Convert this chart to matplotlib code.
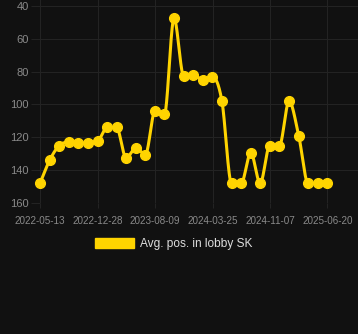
import numpy as np
import pandas as pd
import matplotlib
matplotlib.use('Agg')
import matplotlib.pyplot as plt
import matplotlib.dates as mdates
from matplotlib.patches import Patch

# data
dates = ['2022-05-13', '2022-06-20', '2022-07-28', '2022-09-03', '2022-10-11',
         '2022-11-18', '2022-12-26', '2023-02-02', '2023-03-11', '2023-04-18',
         '2023-05-26', '2023-07-03', '2023-08-10', '2023-09-16', '2023-10-24',
         '2023-12-01', '2024-01-08', '2024-02-15', '2024-03-23', '2024-04-30',
         '2024-06-07', '2024-07-15', '2024-08-22', '2024-09-28', '2024-11-05',
         '2024-12-13', '2025-01-20', '2025-02-27', '2025-04-05', '2025-05-13',
         '2025-06-20']
positions = [148, 134, 125, 123, 123.5, 123.5, 122.5, 114, 114, 132.5,
             126.5, 130.5, 104, 106, 47.5, 82.5, 82, 85, 83, 98,
             148, 148, 129.5, 148, 125, 125, 98, 119, 148, 148,
             148]
tick_labels = ['2022-05-13', '2022-12-28', '2023-08-09', '2024-03-25',
               '2024-11-07', '2025-06-20']

series_name = 'Avg. pos. in lobby SK'
line_color = '#FFD400'
bg = '#111111'
grid_color = '#232323'
tick_color = '#8a8a8a'


def monotone(x, y, n=40):
    # Fritsch-Carlson monotone cubic, like chart.js "monotone"
    x = np.asarray(x, float)
    y = np.asarray(y, float)
    h = np.diff(x)
    d = np.diff(y) / h
    m = np.zeros_like(y)
    m[0], m[-1] = d[0], d[-1]
    for i in range(1, len(y) - 1):
        if d[i - 1] * d[i] <= 0:
            m[i] = 0
        else:
            m[i] = (d[i - 1] + d[i]) / 2
    for i in range(len(d)):
        if d[i] == 0:
            m[i] = m[i + 1] = 0
            continue
        a, b = m[i] / d[i], m[i + 1] / d[i]
        s = a * a + b * b
        if s > 9:
            t = 3 / np.sqrt(s)
            m[i], m[i + 1] = t * a * d[i], t * b * d[i]
    xs, ys = [], []
    for i in range(len(h)):
        t = np.linspace(0, 1, n, endpoint=False)
        h00 = 2 * t**3 - 3 * t**2 + 1
        h10 = t**3 - 2 * t**2 + t
        h01 = -2 * t**3 + 3 * t**2
        h11 = t**3 - t**2
        xs.append(x[i] + t * h[i])
        ys.append(h00 * y[i] + h10 * h[i] * m[i] + h01 * y[i + 1] + h11 * h[i] * m[i + 1])
    xs.append([x[-1]])
    ys.append([y[-1]])
    return np.concatenate(xs), np.concatenate(ys)


xd = mdates.date2num(pd.to_datetime(dates))
xs, ys = monotone(xd, positions)

plt.rcParams['font.family'] = ['Liberation Sans', 'DejaVu Sans']

fig = plt.figure(figsize=(3.58, 3.34), dpi=100, facecolor=bg)
ax = fig.add_axes([40 / 358, 131 / 334, 318 / 358, 203 / 334], facecolor=bg)

ax.plot(xs, ys, color=line_color, lw=2.2, solid_capstyle='round', zorder=3,
        clip_on=False)
ax.plot(xd, positions, 'o', color=line_color, ms=7, zorder=4, clip_on=False)

start = mdates.date2num(pd.Timestamp('2022-05-13'))
ax.set_xlim(start, start + 1255)
ax.set_ylim(160, 36.35)

ax.set_xticks(mdates.date2num(pd.to_datetime(tick_labels)))
ax.set_xticklabels(tick_labels)
ax.set_yticks([40, 60, 80, 100, 120, 140, 160])

ax.grid(True, color=grid_color, lw=0.8)
ax.set_axisbelow(True)
for s in ax.spines.values():
    s.set_visible(False)
ax.tick_params(axis='y', length=6.5, width=0.8, color=grid_color, pad=1.5,
               labelsize=8, labelcolor=tick_color)
ax.tick_params(axis='x', length=3.6, width=0.8, color=grid_color, pad=5.5,
               labelsize=7.1, labelcolor=tick_color)

fig.legend(handles=[Patch(facecolor=line_color, edgecolor=line_color)],
           labels=[series_name], loc='center', bbox_to_anchor=(0.485, 0.2695),
           frameon=False, fontsize=8.6, labelcolor='#dddddd',
           handlelength=3.33, handleheight=1.0, handletextpad=0.5, borderpad=0)

fig.savefig('out.png', dpi=100, facecolor=bg)
